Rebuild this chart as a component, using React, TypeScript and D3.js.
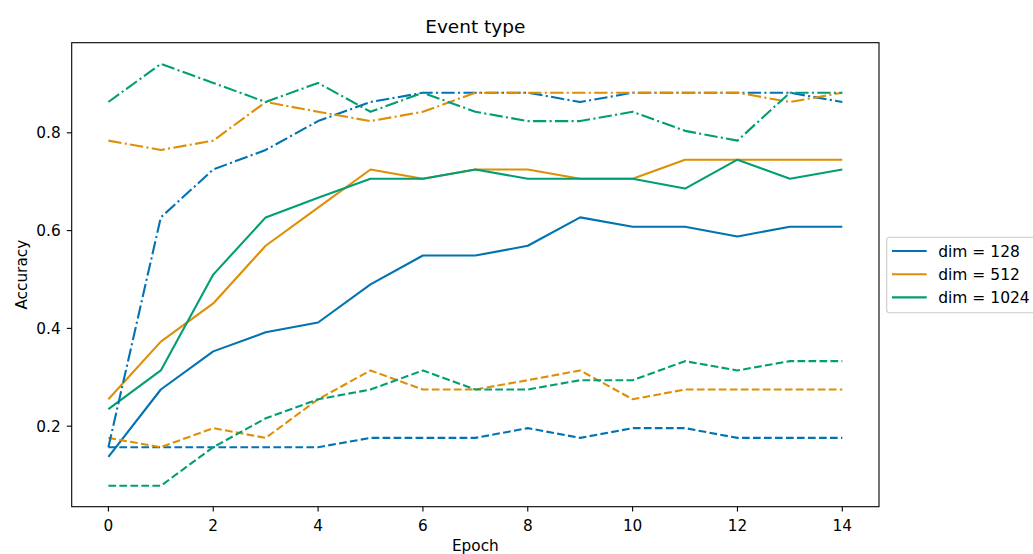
import { useEffect, useRef } from "react";
import * as d3 from "d3";

const epochs = [0, 1, 2, 3, 4, 5, 6, 7, 8, 9, 10, 11, 12, 13, 14];
const dims = ["dim = 128", "dim = 512", "dim = 1024"];
const colors = ["#0173b2", "#de8f05", "#029e73"];

// solid lines
const solid128 = [0.137, 0.275, 0.353, 0.392, 0.412, 0.49, 0.549, 0.549, 0.569, 0.627, 0.608, 0.608, 0.588, 0.608, 0.608];
const solid512 = [0.255, 0.373, 0.451, 0.569, 0.647, 0.725, 0.706, 0.725, 0.725, 0.706, 0.706, 0.745, 0.745, 0.745, 0.745];
const solid1024 = [0.235, 0.314, 0.51, 0.627, 0.667, 0.706, 0.706, 0.725, 0.706, 0.706, 0.706, 0.686, 0.745, 0.706, 0.725];

// dashed lines
const dashed128 = [0.157, 0.157, 0.157, 0.157, 0.157, 0.176, 0.176, 0.176, 0.196, 0.176, 0.196, 0.196, 0.176, 0.176, 0.176];
const dashed512 = [0.176, 0.157, 0.196, 0.176, 0.255, 0.314, 0.275, 0.275, 0.294, 0.314, 0.255, 0.275, 0.275, 0.275, 0.275];
const dashed1024 = [0.078, 0.078, 0.157, 0.216, 0.255, 0.275, 0.314, 0.275, 0.275, 0.294, 0.294, 0.333, 0.314, 0.333, 0.333];

// dash-dot lines
const dashdot128 = [0.157, 0.627, 0.725, 0.765, 0.824, 0.863, 0.882, 0.882, 0.882, 0.863, 0.882, 0.882, 0.882, 0.882, 0.863];
const dashdot512 = [0.784, 0.765, 0.784, 0.863, 0.843, 0.824, 0.843, 0.882, 0.882, 0.882, 0.882, 0.882, 0.882, 0.863, 0.882];
const dashdot1024 = [0.863, 0.941, 0.902, 0.863, 0.902, 0.843, 0.882, 0.843, 0.824, 0.824, 0.843, 0.804, 0.784, 0.882, 0.882];

const xTicks = [0, 2, 4, 6, 8, 10, 12, 14];
const yTicks = [0.2, 0.4, 0.6, 0.8];

const W = 1033;
const H = 554;
const FONT = "DejaVu Sans, sans-serif";
const TICK_SIZE = 15.3;

export default function App(): JSX.Element {
  const ref = useRef<SVGSVGElement | null>(null);

  useEffect(() => {
    if (!ref.current) return;
    const svg = d3.select(ref.current);
    svg.selectAll("*").remove();

    const left = 71.7;
    const right = 879;
    const top = 42.7;
    const bottom = 506.7;

    const x = d3.scaleLinear().domain([-0.7, 14.7]).range([left, right]);
    const y = d3.scaleLinear().domain([0.0353, 0.9843]).range([bottom, top]);

    svg.append("rect").attr("width", W).attr("height", H).attr("fill", "#fff");

    // solid first, then dashed, then dash-dot (same order as the plot calls)
    const groups: { data: number[][]; dash: string | null }[] = [
      { data: [solid128, solid512, solid1024], dash: null },
      { data: [dashed128, dashed512, dashed1024], dash: "7.7,3.3" },
      { data: [dashdot128, dashdot512, dashdot1024], dash: "13.3,3.3,2.1,3.3" },
    ];

    const line = d3
      .line<number>()
      .x((_d, i) => x(epochs[i]))
      .y((d) => y(d));

    const plot = svg.append("g");
    groups.forEach((g) => {
      g.data.forEach((vals, k) => {
        plot
          .append("path")
          .attr("d", line(vals))
          .attr("fill", "none")
          .attr("stroke", colors[k])
          .attr("stroke-width", 2.1)
          .attr("stroke-linejoin", "round")
          .attr("stroke-dasharray", g.dash);
      });
    });

    // frame
    svg
      .append("rect")
      .attr("x", left)
      .attr("y", top)
      .attr("width", right - left)
      .attr("height", bottom - top)
      .attr("fill", "none")
      .attr("stroke", "#000")
      .attr("stroke-width", 1.1);

    const xAxis = svg.append("g").attr("transform", `translate(0,${bottom})`);
    xTicks.forEach((t) => {
      xAxis
        .append("line")
        .attr("x1", x(t))
        .attr("x2", x(t))
        .attr("y1", 0)
        .attr("y2", 4.9)
        .attr("stroke", "#000")
        .attr("stroke-width", 1.1);
      xAxis
        .append("text")
        .attr("x", x(t))
        .attr("y", 24.5)
        .attr("text-anchor", "middle")
        .attr("font-family", FONT)
        .attr("font-size", TICK_SIZE)
        .text(String(t));
    });

    const yAxis = svg.append("g").attr("transform", `translate(${left},0)`);
    yTicks.forEach((t) => {
      yAxis
        .append("line")
        .attr("x1", -4.9)
        .attr("x2", 0)
        .attr("y1", y(t))
        .attr("y2", y(t))
        .attr("stroke", "#000")
        .attr("stroke-width", 1.1);
      yAxis
        .append("text")
        .attr("x", -11)
        .attr("y", y(t))
        .attr("dy", "0.36em")
        .attr("text-anchor", "end")
        .attr("font-family", FONT)
        .attr("font-size", TICK_SIZE)
        .text(t.toFixed(1));
    });

    svg
      .append("text")
      .attr("x", (left + right) / 2)
      .attr("y", 33.3)
      .attr("text-anchor", "middle")
      .attr("font-family", FONT)
      .attr("font-size", 18.5)
      .text("Event type");

    svg
      .append("text")
      .attr("x", (left + right) / 2)
      .attr("y", 551)
      .attr("text-anchor", "middle")
      .attr("font-family", FONT)
      .attr("font-size", TICK_SIZE)
      .text("Epoch");

    svg
      .append("text")
      .attr("transform", `translate(26.5,${(top + bottom) / 2}) rotate(-90)`)
      .attr("text-anchor", "middle")
      .attr("font-family", FONT)
      .attr("font-size", TICK_SIZE)
      .text("Accuracy");

    // legend, solid handles only
    const lg = svg.append("g").attr("transform", "translate(886.7,237.3)");
    lg.append("rect")
      .attr("width", 160)
      .attr("height", 75.4)
      .attr("rx", 3)
      .attr("fill", "#fff")
      .attr("fill-opacity", 0.8)
      .attr("stroke", "#ccc")
      .attr("stroke-width", 1.1);
    dims.forEach((name, k) => {
      const cy = 13.7 + k * 23.2;
      lg.append("line")
        .attr("x1", 5.3)
        .attr("x2", 40)
        .attr("y1", cy)
        .attr("y2", cy)
        .attr("stroke", colors[k])
        .attr("stroke-width", 2.1);
      lg.append("text")
        .attr("x", 51.5)
        .attr("y", cy)
        .attr("dy", "0.36em")
        .attr("font-family", FONT)
        .attr("font-size", 15.5)
        .text(name);
    });
  }, []);

  return (
    <svg
      ref={ref}
      width={W}
      height={H}
      style={{ position: "fixed", left: 0, top: 0, display: "block" }}
    />
  );
}
